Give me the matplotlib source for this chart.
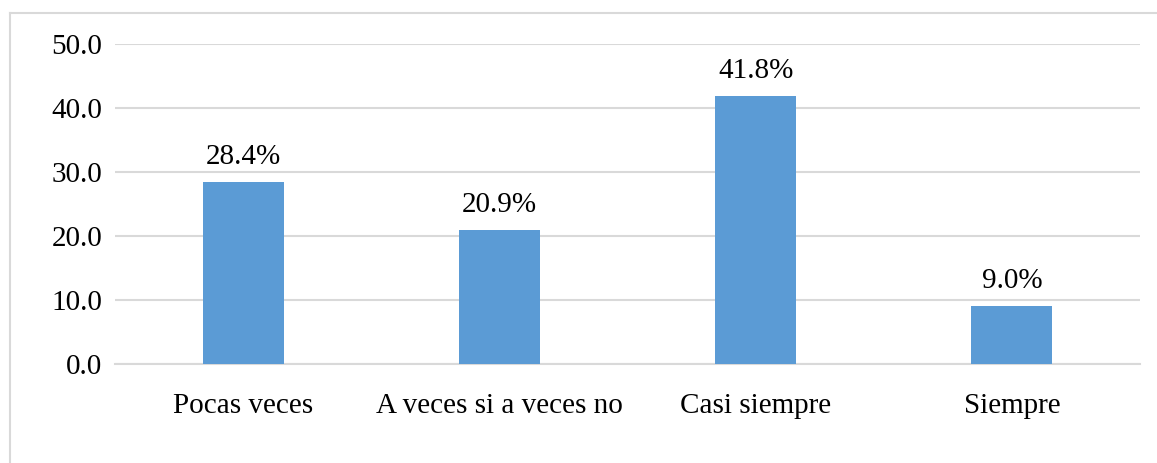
import matplotlib.pyplot as plt
from matplotlib.lines import Line2D

categories = ['Pocas veces', 'A veces si a veces no', 'Casi siempre', 'Siempre']
values = [28.4, 20.9, 41.8, 9.0]
yticks = [0, 10, 20, 30, 40, 50]

plt.rcParams['font.family'] = ['Liberation Serif', 'DejaVu Serif']

fig = plt.figure(figsize=(11.57, 4.63), dpi=100)
ax = fig.add_axes([115 / 1157, 1 - 364 / 463, (1140 - 115) / 1157, (364 - 44) / 463])

x = range(len(categories))
bars = ax.bar(x, values, width=0.316, color='#5B9BD5', zorder=3)

for b, v in zip(bars, values):
    ax.text(b.get_x() + b.get_width() / 2, v + 1.9, f'{v:.1f}%',
            ha='center', va='bottom', fontsize=21, color='black')

ax.set_xlim(-0.5, len(categories) - 0.5)
ax.set_ylim(0, 50)
ax.set_yticks(yticks)
ax.set_yticklabels([f'{t:.1f}' for t in yticks])
ax.set_xticks(list(x))
ax.set_xticklabels(categories)
ax.tick_params(axis='both', length=0, labelsize=21, colors='black')
ax.tick_params(axis='y', pad=9)
ax.tick_params(axis='x', pad=21)

ax.grid(axis='y', color='#D9D9D9', linewidth=1.5, zorder=0)
for s in ['top', 'right', 'left']:
    ax.spines[s].set_visible(False)
ax.spines['bottom'].set_color('#D9D9D9')
ax.spines['bottom'].set_linewidth(1.5)

# chart frame (left and top edges visible)
fig.add_artist(Line2D([10 / 1157, 10 / 1157], [0, 1 - 13 / 463], color='#D9D9D9', linewidth=1.5))
fig.add_artist(Line2D([10 / 1157, 1], [1 - 13 / 463, 1 - 13 / 463], color='#D9D9D9', linewidth=1.5))

fig.savefig('out.png', dpi=100)
